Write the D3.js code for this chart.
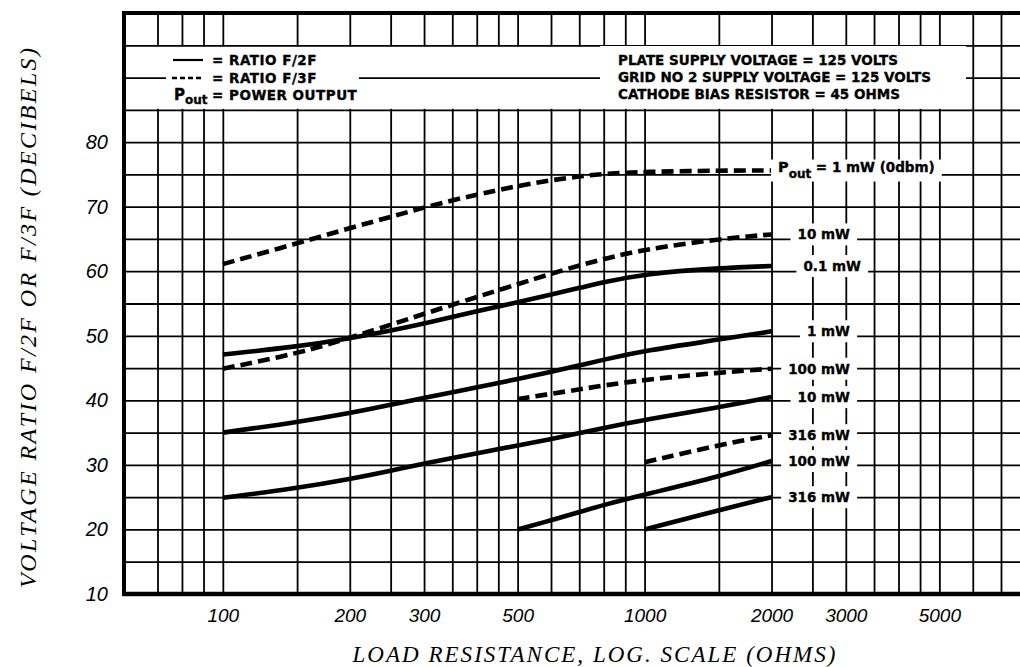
<!DOCTYPE html>
<html>
<head>
<meta charset="utf-8">
<script src="https://cdn.jsdelivr.net/npm/d3@7"></script>
<style>
  body { margin: 0; background: #fff; }
  svg { display: block; }
  .note { font-family: "DejaVu Sans", sans-serif; font-weight: bold; font-size: 13.5px; fill: #000; stroke: #000; stroke-width: 0.35px; }
  .axis-title { font-family: "Liberation Serif", serif; font-style: italic; font-size: 24px; fill: #000; }
</style>
</head>
<body>
<svg id="chart" width="1020" height="667"></svg>
<script>
// load resistance (ohms) at which the curves were read
const loadFull = [100, 150, 200, 250, 300, 400, 500, 600, 700, 800, 1000, 1500, 2000];
const loadFrom500 = [500, 600, 700, 800, 1000, 1500, 2000];
const loadFrom1000 = [1000, 1500, 2000];

// ratio F/3F (dashed), dB
const f3At1mW   = [61.1, 64.3, 66.7, 68.4, 69.9, 71.9, 73.2, 74.1, 74.7, 75.1, 75.4, 75.6, 75.6];
const f3At10mW  = [44.9, 47.2, 49.7, 51.7, 53.4, 56.0, 58.0, 59.6, 60.9, 61.9, 63.4, 65.0, 65.7];
const f3At100mW = [40.2, 41.0, 41.7, 42.3, 43.2, 44.3, 44.9];
const f3At316mW = [30.4, 33.1, 34.6];

// ratio F/2F (solid), dB
const f2At01mW  = [47.1, 48.3, 49.6, 50.8, 51.9, 53.8, 55.2, 56.4, 57.4, 58.3, 59.6, 60.5, 60.8];
const f2At1mW   = [35.0, 36.6, 38.0, 39.3, 40.4, 42.0, 43.3, 44.4, 45.4, 46.3, 47.7, 49.4, 50.7];
const f2At10mW  = [24.9, 26.4, 27.8, 29.1, 30.2, 31.8, 33.0, 34.0, 34.9, 35.7, 37.0, 38.9, 40.5];
const f2At100mW = [20.0, 21.4, 22.7, 23.8, 25.4, 28.2, 30.6];
const f2At316mW = [20.0, 23.0, 25.0];

const loadTicks = [100, 200, 300, 500, 1000, 2000, 3000, 5000];
const dbTicks = [10, 20, 30, 40, 50, 60, 70, 80];
const gridLoads = [70, 80, 90, 100, 150, 200, 250, 300, 350, 400, 450, 500, 600, 700, 800, 900,
                   1000, 1500, 2000, 2500, 3000, 3500, 4000, 4500, 5000, 6000, 7000];

const legendLines = ["= RATIO F/2F", "= RATIO F/3F", "= POWER OUTPUT"];
const conditionLines = ["PLATE SUPPLY VOLTAGE = 125 VOLTS",
                        "GRID NO 2 SUPPLY VOLTAGE = 125 VOLTS",
                        "CATHODE BIAS RESISTOR = 45 OHMS"];

const series = [
    { label: "1 mW (0dbm)", dashed: true,  load: loadFull,     db: f3At1mW },
    { label: "10 mW",       dashed: true,  load: loadFull,     db: f3At10mW },
    { label: "0.1 mW",      dashed: false, load: loadFull,     db: f2At01mW },
    { label: "1 mW",        dashed: false, load: loadFull,     db: f2At1mW },
    { label: "100 mW",      dashed: true,  load: loadFrom500,  db: f3At100mW },
    { label: "10 mW",       dashed: false, load: loadFull,     db: f2At10mW },
    { label: "316 mW",      dashed: true,  load: loadFrom1000, db: f3At316mW },
    { label: "100 mW",      dashed: false, load: loadFrom500,  db: f2At100mW },
    { label: "316 mW",      dashed: false, load: loadFrom1000, db: f2At316mW }
];

const svg = d3.select("#chart");
const plotLeft = 124, plotRight = 1020, plotTop = 13, plotBottom = 594;

const x = d3.scaleLog().domain([58.3, 7000]).range([plotLeft, 1001]);
const y = d3.scaleLinear().domain([10, 100]).range([plotBottom, plotTop]);

function drawGrid() {
    // vertical lines
    svg.append("g")
        .attr("transform", `translate(0,${plotBottom})`)
        .call(d3.axisBottom(x).tickValues(gridLoads).tickSize(-(plotBottom - plotTop)).tickFormat(""))
        .call(g => g.select(".domain").remove())
        .selectAll("line").attr("stroke", "#000").attr("stroke-width", 1.8);

    // white band behind the notes, no vertical rulings there
    svg.append("rect")
        .attr("x", plotLeft + 1).attr("width", 841)
        .attr("y", y(95) + 1).attr("height", y(85) - y(95) - 2)
        .attr("fill", "#fff");

    // horizontal lines
    svg.append("g")
        .attr("transform", `translate(${plotLeft},0)`)
        .call(d3.axisLeft(y).ticks(18).tickSize(-(plotRight - plotLeft)).tickFormat(""))
        .call(g => g.select(".domain").remove())
        .selectAll("line").attr("stroke", "#000").attr("stroke-width", 1.8);
}

function drawCurves() {
    const line = d3.line()
        .x(d => x(d[0]))
        .y(d => y(d[1]))
        .curve(d3.curveBasis);

    svg.append("g").selectAll("path")
        .data(series)
        .enter()
        .append("path")
        .attr("d", d => line(d3.zip(d.load, d.db)))
        .attr("fill", "none")
        .attr("stroke", "#000")
        .attr("stroke-width", 4.6)
        .attr("stroke-dasharray", d => d.dashed ? "12,6" : null);
}

function drawNotes() {
    // legend box
    svg.append("rect").attr("x", 166).attr("y", 48).attr("width", 193).attr("height", 58).attr("fill", "#fff");
    svg.append("line").attr("x1", 173).attr("x2", 203).attr("y1", 60).attr("y2", 60)
        .attr("stroke", "#000").attr("stroke-width", 2.2);
    svg.append("line").attr("x1", 172).attr("x2", 201).attr("y1", 78).attr("y2", 78)
        .attr("stroke", "#000").attr("stroke-width", 2.4).attr("stroke-dasharray", "5,3");
    const p = svg.append("text").attr("class", "note").attr("x", 174).attr("y", 100).style("font-size", "15px");
    p.append("tspan").text("P");
    p.append("tspan").attr("dy", 4).style("font-size", "12px").text("out");

    svg.append("g").selectAll("text")
        .data(legendLines)
        .enter()
        .append("text")
        .attr("class", "note")
        .attr("x", 212)
        .attr("y", (d, i) => 65 + i * 17.5)
        .style("letter-spacing", "0.5px")
        .text(d => d);

    // operating conditions box
    svg.append("rect").attr("x", 600).attr("y", 46).attr("width", 366).attr("height", 62).attr("fill", "#fff");
    svg.append("g").selectAll("text")
        .data(conditionLines)
        .enter()
        .append("text")
        .attr("class", "note")
        .attr("x", 618)
        .attr("y", (d, i) => 65 + i * 17)
        .text(d => d);
}

function drawCurveLabels() {
    const labelEnd = { "0.1 mW": 861 };
    series.forEach((s, i) => {
        const yy = y(s.db[s.db.length - 1]);
        const g = svg.append("g");
        const box = g.append("rect").attr("fill", "#fff");
        let t;
        if (i === 0) {
            t = g.append("text").attr("class", "note").attr("x", 778).attr("y", yy + 1);
            t.append("tspan").style("font-size", "14.5px").text("P");
            t.append("tspan").attr("dy", 6).style("font-size", "12px").text("out");
            t.append("tspan").attr("dy", -6).text(" = " + s.label);
        } else {
            t = g.append("text").attr("class", "note")
                .attr("x", labelEnd[s.label] || 850)
                .attr("y", yy + 5)
                .attr("text-anchor", "end")
                .text(s.label);
        }
        const b = t.node().getBBox();
        box.attr("x", b.x - 7).attr("y", yy - 11)
            .attr("width", b.width + 14).attr("height", 22);
    });
}

function drawFrame() {
    svg.append("line").attr("x1", plotLeft).attr("x2", plotLeft).attr("y1", plotTop - 2).attr("y2", plotBottom + 2)
        .attr("stroke", "#000").attr("stroke-width", 4);
    svg.append("line").attr("x1", plotLeft - 2).attr("x2", plotRight).attr("y1", plotBottom).attr("y2", plotBottom)
        .attr("stroke", "#000").attr("stroke-width", 4.5);
    svg.append("line").attr("x1", plotLeft - 2).attr("x2", plotRight).attr("y1", plotTop).attr("y2", plotTop)
        .attr("stroke", "#000").attr("stroke-width", 4);
}

function drawAxes() {
    svg.append("g")
        .attr("transform", `translate(0,${plotBottom})`)
        .call(d3.axisBottom(x).tickValues(loadTicks).tickFormat(d3.format("d")).tickSize(0).tickPadding(15))
        .call(g => g.select(".domain").remove())
        .attr("font-family", "Liberation Sans, sans-serif")
        .attr("font-size", 19)
        .attr("font-style", "italic");

    svg.append("g")
        .attr("transform", `translate(${plotLeft},0)`)
        .call(d3.axisLeft(y).tickValues(dbTicks).tickSize(0).tickPadding(16))
        .call(g => g.select(".domain").remove())
        .attr("font-family", "Liberation Sans, sans-serif")
        .attr("font-size", 20)
        .attr("font-style", "italic");

    svg.append("text")
        .attr("class", "axis-title")
        .attr("x", 594).attr("y", 662)
        .attr("text-anchor", "middle")
        .style("font-size", "23px")
        .attr("textLength", 483).attr("lengthAdjust", "spacing")
        .text("LOAD RESISTANCE, LOG. SCALE (OHMS)");

    svg.append("text")
        .attr("class", "axis-title")
        .attr("transform", "translate(36,318) rotate(-90)")
        .attr("text-anchor", "middle")
        .attr("textLength", 540).attr("lengthAdjust", "spacing")
        .text("VOLTAGE RATIO F/2F OR F/3F (DECIBELS)");
}

drawGrid();
drawCurves();
drawNotes();
drawCurveLabels();
drawFrame();
drawAxes();
</script>
</body>
</html>
